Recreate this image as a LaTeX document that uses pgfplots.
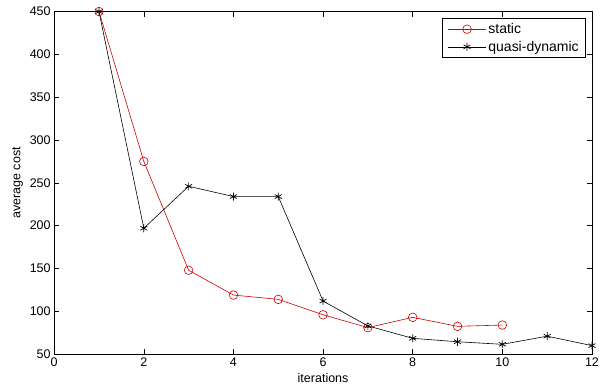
\documentclass[border=0pt]{standalone}
\usepackage{fontspec}
\setmainfont{Liberation Sans}
\usepackage{pgfplots}
\pgfplotsset{compat=1.18}

\definecolor{mred}{RGB}{204,0,0}

\begin{document}
\begin{tikzpicture}
\begin{axis}[
    scale only axis,
    width=536bp, height=341.5bp,
    xmin=0, xmax=12, ymin=50, ymax=450,
    xtick={0,2,...,12}, ytick={50,100,...,450},
    tick align=inside, major tick length=5bp,
    tick style={black, line width=0.6pt},
    axis line style={line width=0.6pt},
    font=\fontsize{12.5}{14}\selectfont,
    /pgf/number format/assume math mode=true,
    xlabel={iterations}, ylabel={average cost},
    xlabel style={font=\fontsize{12.5}{14}\selectfont, yshift=0bp},
    ylabel style={font=\fontsize{12.5}{14}\selectfont, yshift=0bp},
    legend cell align=left,
    legend style={at={(1,1)}, anchor=north east, xshift=-6bp, yshift=-6.5bp,
      draw=black, line width=0.6pt, inner xsep=5bp, inner ysep=3bp, row sep=2bp,
      font=\fontsize{14}{16}\selectfont},
    legend image code/.code={\draw[mark repeat=2,mark phase=2,#1]
      plot coordinates {(0bp,0bp) (19bp,0bp) (38bp,0bp)};},
  ]
  \coordinate (ll) at (rel axis cs:0,0);
  \coordinate (ur) at (rel axis cs:1,1);
  \addplot[mred, line width=0.6pt, mark=o, mark size=4.3bp, mark options={line width=0.6pt}]
    coordinates {(1,450) (2,275) (3,148) (4,119) (5,114) (6,96) (7,81) (8,93) (9,82.5) (10,84)};
  \addplot[black, line width=0.6pt, mark=asterisk, mark size=4bp, mark options={line width=0.7pt}]
    coordinates {(1,450) (2,197) (3,246) (4,234) (5,234) (6,112) (7,83) (8,68.5) (9,64.5) (10,61.5) (11,71) (12,60)};
  \legend{static, quasi-dynamic}
\end{axis}
\pgfresetboundingbox
\path (ll) ++(-54bp,-36bp) coordinate (a);
\path (ur) ++(11bp,11.5bp) coordinate (b);
\path[use as bounding box] (a) rectangle (b);
\end{tikzpicture}
\end{document}
